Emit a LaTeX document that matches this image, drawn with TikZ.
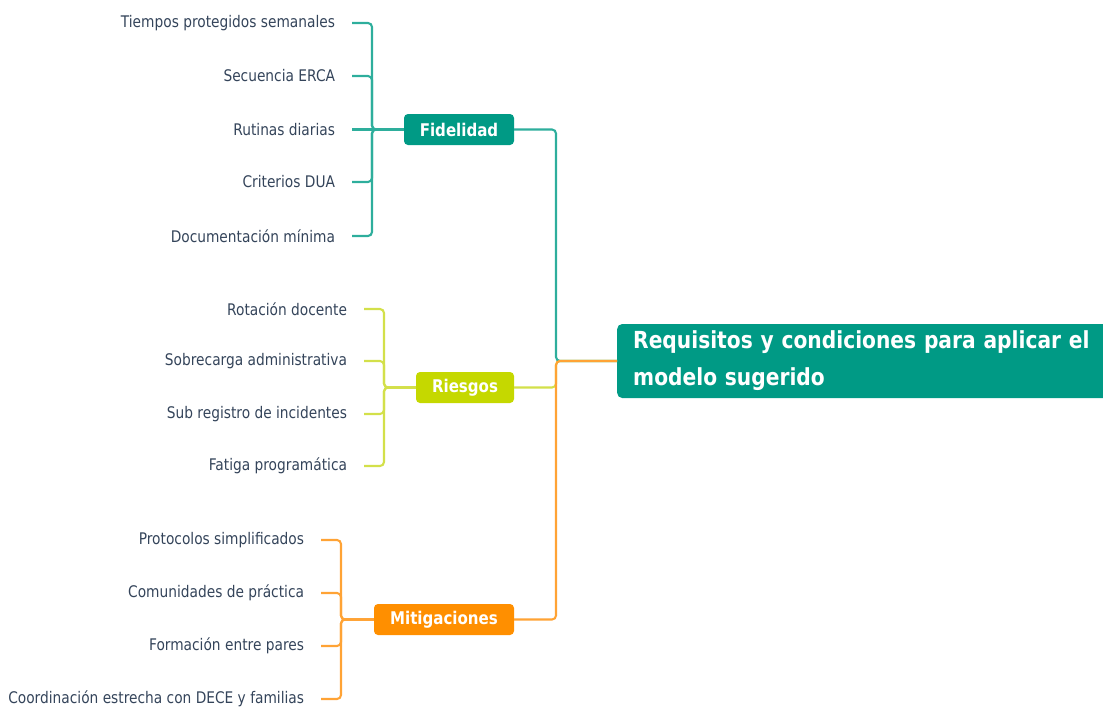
\documentclass[tikz,border=0pt]{standalone}
\usepackage{fontspec}
\setmainfont{DejaVu Sans}[FakeStretch=0.86]
\definecolor{tealF}{HTML}{009A85}
\definecolor{tealL}{HTML}{2EAE9C}
\definecolor{limeF}{HTML}{C5D800}
\definecolor{limeL}{HTML}{D3E04A}
\definecolor{orgF}{HTML}{FF8F00}
\definecolor{orgL}{HTML}{FFA335}
\definecolor{txt}{HTML}{34445A}
\begin{document}
\begin{tikzpicture}[x=1pt,y=-1pt,
  leaf/.style={anchor=east, inner sep=0pt, outer xsep=17pt, text=txt, font=\fontsize{16}{18}\selectfont},
  branch/.style={rounded corners=4pt, inner sep=0pt, text=white, minimum height=31pt, font=\bfseries\fontsize{17.5}{19}\selectfont},
  conn/.style={line width=2.1pt, rounded corners=4pt}
]
\useasboundingbox (0,0) rectangle (1103,707);
% root
\node[fill=tealF, rounded corners=5pt, anchor=west, minimum height=74pt, text width=520pt, inner xsep=16pt, inner ysep=0pt, align=left, text=white, font=\bfseries\fontsize{23.5}{37}\selectfont] (root) at (617,361) {Requisitos y condiciones para aplicar el\\modelo sugerido};
% branches
\node[branch, fill=tealF, minimum width=110pt] (F) at (459,129.5) {Fidelidad};
\node[branch, fill=limeF, minimum width=98pt] (R) at (465,387.5) {Riesgos};
\node[branch, fill=orgF, minimum width=140pt] (M) at (444,619.5) {Mitigaciones};
% spine
\draw[conn, tealL] (root.west) -- (556,361) |- (F.east);
\draw[conn, limeL] (root.west) -- (556,361) |- (R.east);
\draw[conn, orgL] (root.west) -- (556,361) |- (M.east);
% Fidelidad leaves
\node[leaf] (f1) at (352,23) {Tiempos protegidos semanales};
\node[leaf] (f2) at (352,76) {Secuencia ERCA};
\node[leaf] (f3) at (352,129.5) {Rutinas diarias};
\node[leaf] (f4) at (352,182) {Criterios DUA};
\node[leaf] (f5) at (352,236) {Documentación mínima};
\foreach \n in {f1,f2,f4,f5}{\draw[conn, tealL] (F.west) -- (372,129.5) |- (\n.east);}
\draw[conn, tealL] (F.west) -- (f3.east);
% Riesgos leaves
\node[leaf] (r1) at (364,309) {Rotación docente};
\node[leaf] (r2) at (364,361) {Sobrecarga administrativa};
\node[leaf] (r3) at (364,414) {Sub registro de incidentes};
\node[leaf] (r4) at (364,466) {Fatiga programática};
\foreach \n in {r1,r2,r3,r4}{\draw[conn, limeL] (R.west) -- (384,387.5) |- (\n.east);}
% Mitigaciones leaves
\node[leaf] (m1) at (321,540) {Protocolos simplificados};
\node[leaf] (m2) at (321,593) {Comunidades de práctica};
\node[leaf] (m3) at (321,646) {Formación entre pares};
\node[leaf] (m4) at (321,699) {Coordinación estrecha con DECE y familias};
\foreach \n in {m1,m2,m3,m4}{\draw[conn, orgL] (M.west) -- (341,619.5) |- (\n.east);}
\end{tikzpicture}
\end{document}
